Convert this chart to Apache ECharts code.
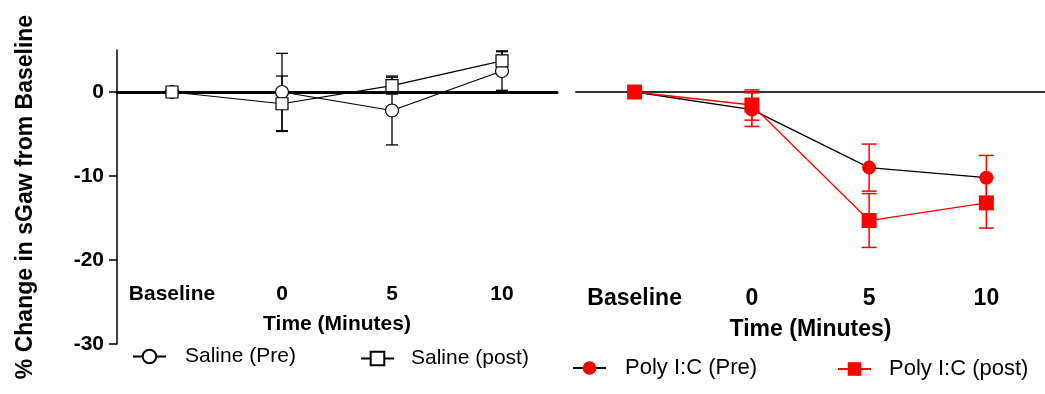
<!DOCTYPE html>
<html>
<head>
<meta charset="utf-8">
<script src="https://cdn.jsdelivr.net/npm/echarts@6/dist/echarts.min.js"></script>
<style>
html,body{margin:0;padding:0;background:#fff;}
#chart{width:1045px;height:394px;}
</style>
</head>
<body>
<div id="chart"></div>
<script>
var categories = ['Baseline', '0', '5', '10'];
var yTicks = [0, -10, -20, -30];

var salinePre = [0, 0, -2.2, 2.5];
var salinePreErr = [0, 4.6, 4.1, 2.3];
var salinePost = [0, -1.4, 0.75, 3.7];
var salinePostErr = [0, 3.3, 1.0, 1.2];

var polyPre = [0, -2.1, -9.0, -10.2];
var polyPreErr = [0, 2.0, 2.8, 2.65];
var polyPost = [0, -1.55, -15.3, -13.2];
var polyPostErr = [0, 1.8, 3.2, 3.0];

var FONT = 'Liberation Sans, Arial, sans-serif';

function errData(vals, errs) {
  var out = [];
  for (var i = 0; i < vals.length; i++) {
    if (errs[i] > 0) out.push([i, vals[i] - errs[i], vals[i] + errs[i]]);
  }
  return out;
}

function errSeries(name, vals, errs, xi, yi, color, capW, lw) {
  return {
    type: 'custom',
    name: name + ' err',
    xAxisIndex: xi,
    yAxisIndex: yi,
    z: 1,
    silent: true,
    encode: { x: 0, y: [1, 2] },
    data: errData(vals, errs),
    renderItem: function (params, api) {
      var x = api.value(0);
      var lo = api.coord([x, api.value(1)]);
      var hi = api.coord([x, api.value(2)]);
      var st = { stroke: color, lineWidth: lw };
      return {
        type: 'group',
        children: [
          { type: 'line', shape: { x1: hi[0], y1: hi[1], x2: lo[0], y2: lo[1] }, style: st },
          { type: 'line', shape: { x1: hi[0] - capW / 2, y1: hi[1], x2: hi[0] + capW / 2, y2: hi[1] }, style: st },
          { type: 'line', shape: { x1: lo[0] - capW / 2, y1: lo[1], x2: lo[0] + capW / 2, y2: lo[1] }, style: st }
        ]
      };
    }
  };
}

function legend(name, left, top, fontSize, pad) {
  return {
    data: [name],
    left: left,
    top: top,
    padding: 0,
    itemWidth: 33,
    itemHeight: 17,
    selectedMode: false,
    textStyle: { fontFamily: FONT, fontSize: fontSize, color: '#000', padding: [0, 0, 0, pad] }
  };
}

var chart = echarts.init(document.getElementById('chart'), null, { renderer: 'canvas' });

var option = {
  animation: false,
  backgroundColor: '#fff',
  grid: [
    { left: 117, top: 50, width: 440, height: 294 },
    { left: 576, top: 50, width: 469, height: 294 }
  ],
  legend: [
    legend('Saline (Pre)', 132, 346, 21, 14),
    legend('Saline (post)', 360, 348, 21, 12),
    legend('Poly I:C (Pre)', 572, 357, 22, 14),
    legend('Poly I:C (post)', 837, 358, 22, 13)
  ],
  xAxis: [
    {
      gridIndex: 0, type: 'category', data: categories, boundaryGap: true,
      axisLine: { onZero: true, lineStyle: { color: '#000', width: 3 } },
      axisTick: { alignWithLabel: true, length: 9, lineStyle: { color: '#000', width: 1.5 } },
      axisLabel: { show: false }
    },
    {
      gridIndex: 0, type: 'category', data: categories, boundaryGap: true,
      position: 'bottom', offset: -60,
      axisLine: { show: false, onZero: false },
      axisTick: { show: false },
      axisLabel: { interval: 0, margin: 0, fontSize: 21, fontWeight: 'bold', color: '#000', fontFamily: FONT },
      name: 'Time (Minutes)', nameLocation: 'middle', nameGap: 30,
      nameTextStyle: { fontSize: 21, fontWeight: 'bold', color: '#000', fontFamily: FONT }
    },
    {
      gridIndex: 1, type: 'category', data: categories, boundaryGap: true,
      axisLine: { onZero: true, lineStyle: { color: '#333', width: 2 } },
      axisTick: { alignWithLabel: true, length: 10, lineStyle: { color: '#333', width: 1.5 } },
      axisLabel: { show: false }
    },
    {
      gridIndex: 1, type: 'category', data: categories, boundaryGap: true,
      position: 'bottom', offset: -57,
      axisLine: { show: false, onZero: false },
      axisTick: { show: false },
      axisLabel: { interval: 0, margin: 0, fontSize: 23, fontWeight: 'bold', color: '#000', fontFamily: FONT },
      name: 'Time (Minutes)', nameLocation: 'middle', nameGap: 31,
      nameTextStyle: { fontSize: 23, fontWeight: 'bold', color: '#000', fontFamily: FONT }
    }
  ],
  yAxis: [
    {
      gridIndex: 0, type: 'value', min: -30, max: 5,
      splitLine: { show: false },
      axisLine: { show: true, onZero: false, lineStyle: { color: '#000', width: 1.5 } },
      axisTick: { show: true, length: 8, customValues: yTicks, lineStyle: { color: '#000', width: 1.5 } },
      axisLabel: { margin: 13, customValues: yTicks, fontSize: 21, fontWeight: 'bold', color: '#000', fontFamily: FONT },
      name: '% Change in sGaw from Baseline', nameLocation: 'middle', nameGap: 80,
      nameTextStyle: { fontSize: 23, fontWeight: 'bold', color: '#000', fontFamily: FONT }
    },
    {
      gridIndex: 1, type: 'value', min: -30, max: 5, show: false,
      splitLine: { show: false }
    }
  ],
  series: [
    errSeries('Saline (Pre)', salinePre, salinePreErr, 0, 0, '#000', 12, 1.3),
    errSeries('Saline (post)', salinePost, salinePostErr, 0, 0, '#000', 12, 1.3),
    errSeries('Poly I:C (Pre)', polyPre, polyPreErr, 2, 1, '#ff0000', 15, 1.5),
    errSeries('Poly I:C (post)', polyPost, polyPostErr, 2, 1, '#ff0000', 15, 1.5),
    {
      name: 'Saline (Pre)', type: 'line', xAxisIndex: 0, yAxisIndex: 0, z: 3,
      data: salinePre, symbol: 'circle', symbolSize: 13,
      lineStyle: { color: '#000', width: 1.2 },
      itemStyle: { color: '#fff', borderColor: '#000', borderWidth: 1.2 }
    },
    {
      name: 'Saline (post)', type: 'line', xAxisIndex: 0, yAxisIndex: 0, z: 3,
      data: salinePost, symbol: 'rect', symbolSize: 12,
      lineStyle: { color: '#000', width: 1.2 },
      itemStyle: { color: '#fff', borderColor: '#000', borderWidth: 1.2 }
    },
    {
      name: 'Poly I:C (Pre)', type: 'line', xAxisIndex: 2, yAxisIndex: 1, z: 3,
      data: polyPre, symbol: 'circle', symbolSize: 14,
      lineStyle: { color: '#000', width: 1.3 },
      itemStyle: { color: '#ff0000', borderColor: '#ff0000', borderWidth: 0 }
    },
    {
      name: 'Poly I:C (post)', type: 'line', xAxisIndex: 2, yAxisIndex: 1, z: 3,
      data: polyPost, symbol: 'rect', symbolSize: 15,
      lineStyle: { color: '#ff0000', width: 1.3 },
      itemStyle: { color: '#ff0000', borderColor: '#ff0000', borderWidth: 0 }
    }
  ]
};
chart.setOption(option);
</script>
</body>
</html>
